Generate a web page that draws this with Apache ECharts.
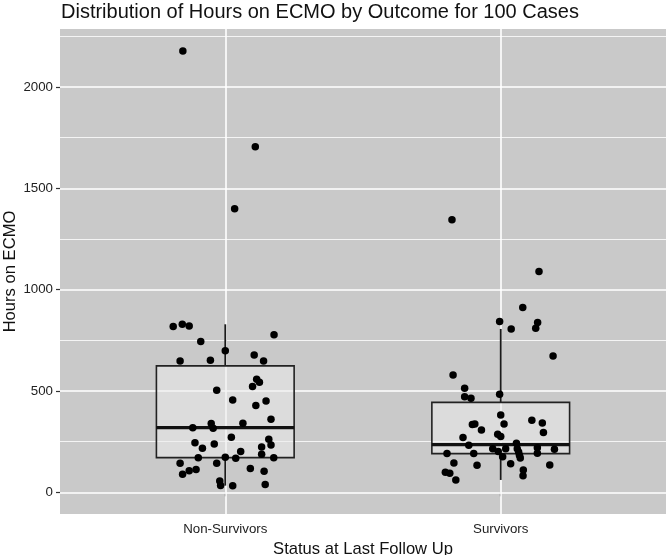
<!DOCTYPE html>
<html>
<head>
<meta charset="utf-8">
<script src="https://cdn.jsdelivr.net/npm/echarts@6/dist/echarts.min.js"></script>
<style>html,body{margin:0;padding:0;background:#fff}#c{width:666px;height:555px}</style>
</head>
<body>
<div id="c"></div>
<script>
const titleText = 'Distribution of Hours on ECMO by Outcome for 100 Cases';
const categories = ['Non-Survivors', 'Survivors'];
const yTicks = [0, 500, 1000, 1500, 2000];
const yMinorTicks = [250, 750, 1250, 1750, 2250];

// box statistics: [min whisker, Q1, median, Q3, max whisker]
const nsBox = [33, 171, 319, 624, 829];
const sBox = [61, 191, 235, 444, 806];

// Non-Survivors: hours and horizontal jitter (category units)
const nsHours = [2178, 1705, 1399, 818, 829, 821, 777, 744, 699, 678, 648, 652, 648, 558, 543, 522, 504, 456, 451, 428, 360, 341, 339, 319, 316, 272, 262, 245, 238, 234, 217, 224, 201, 188, 171, 173, 168, 171, 143, 143, 117, 89, 107, 113, 104, 56, 34, 33, 39];
const nsJitter = [-0.154, 0.109, 0.034, -0.189, -0.156, -0.131, 0.177, -0.089, 0, 0.105, -0.164, -0.054, 0.139, 0.114, 0.124, 0.099, -0.031, 0.027, 0.148, 0.111, 0.166, 0.064, -0.051, -0.118, -0.044, 0.022, 0.158, -0.110, -0.040, 0.166, -0.083, 0.132, 0.056, 0.132, -0.098, 0, 0.038, 0.176, -0.164, -0.031, 0.091, -0.155, -0.131, -0.106, 0.141, -0.02, -0.017, 0.027, 0.145];

// Survivors: hours and horizontal jitter (category units)
const sHours = [1345, 1090, 912, 843, 806, 838, 810, 672, 579, 513, 471, 464, 484, 382, 355, 342, 334, 337, 337, 308, 295, 286, 275, 270, 232, 242, 215, 215, 215, 220, 212, 201, 199, 193, 191, 191, 183, 176, 169, 145, 141, 133, 135, 110, 82, 99, 94, 61];
const sJitter = [-0.177, 0.139, 0.08, -0.004, 0.038, 0.134, 0.127, 0.19, -0.173, -0.131, -0.131, -0.108, -0.004, 0, 0.113, 0.151, -0.103, -0.094, 0.012, -0.07, 0.155, -0.011, 0, -0.137, -0.116, 0.057, -0.029, 0.018, 0.06, 0.133, 0.195, -0.009, 0.065, 0.133, -0.195, -0.098, 0.068, 0.007, 0.071, -0.17, 0.036, -0.086, 0.178, 0.082, 0.081, -0.201, -0.185, -0.163];

const boxData = [[1].concat(nsBox), [2].concat(sBox)];
const pointData = nsHours.map((h, i) => [1 + nsJitter[i], h])
  .concat(sHours.map((h, i) => [2 + sJitter[i], h]));

const BOX_HALF = 0.25;
const FONT = 'Liberation Sans, Arial, Helvetica, sans-serif';

const gridLines = []
  .concat(yTicks.map(v => ({ yAxis: v, lineStyle: { color: '#ffffff', width: 1.6, type: 'solid' } })))
  .concat(yMinorTicks.map(v => ({ yAxis: v, lineStyle: { color: '#ffffff', width: 0.8, type: 'solid' } })))
  .concat([1, 2].map(v => ({ xAxis: v, lineStyle: { color: '#ffffff', width: 1.6, type: 'solid' } })));

const chart = echarts.init(document.getElementById('c'), null, { renderer: 'canvas' });
chart.setOption({
  animation: false,
  backgroundColor: '#ffffff',
  title: {
    text: titleText,
    left: 56,
    top: -3,
    textStyle: { fontFamily: FONT, fontSize: 20, fontWeight: 'normal', color: '#111111' }
  },
  grid: {
    left: 60, right: 0, top: 29, bottom: 41,
    containLabel: false, outerBoundsMode: 'none',
    show: true, backgroundColor: '#c9c9c9', borderWidth: 0
  },
  xAxis: {
    type: 'value', min: 0.4, max: 2.6,
    name: 'Status at Last Follow Up', nameLocation: 'middle', nameGap: 27, nameMoveOverlap: false,
    nameTextStyle: { fontFamily: FONT, fontSize: 16.6, color: '#111111' },
    axisLine: { show: false },
    axisTick: { show: true, customValues: [1, 2], length: 4, lineStyle: { color: '#333333', width: 1.2 } },
    axisLabel: { customValues: [1, 2], margin: 9, fontFamily: FONT, fontSize: 13.3, color: '#222222',
      formatter: v => categories[Math.round(v) - 1] || '' },
    splitLine: { show: false }
  },
  yAxis: {
    type: 'value', min: -107, max: 2286,
    name: 'Hours on ECMO', nameLocation: 'middle', nameGap: 41, nameRotate: 90, nameMoveOverlap: false,
    nameTextStyle: { fontFamily: FONT, fontSize: 16.6, color: '#111111' },
    axisLine: { show: false },
    axisTick: { show: true, customValues: yTicks, length: 4, lineStyle: { color: '#333333', width: 1.2 } },
    axisLabel: { customValues: yTicks, margin: 7, fontFamily: FONT, fontSize: 13.3, color: '#222222',
      formatter: v => String(v) },
    splitLine: { show: false }
  },
  series: [
    {
      type: 'line', data: [], z: 1, silent: true,
      markLine: { z: 1, silent: true, symbol: ['none', 'none'], label: { show: false }, animation: false, data: gridLines }
    },
    {
      type: 'custom', z: 2, silent: true,
      data: boxData,
      encode: { x: 0, y: [1, 2, 3, 4, 5] },
      renderItem: function (params, api) {
        const x = api.value(0);
        const lo = api.value(1), q1 = api.value(2), med = api.value(3), q3 = api.value(4), hi = api.value(5);
        const pTL = api.coord([x - BOX_HALF, q3]);
        const pBR = api.coord([x + BOX_HALF, q1]);
        const cx = api.coord([x, 0])[0];
        const yLo = api.coord([x, lo])[1], yHi = api.coord([x, hi])[1];
        const yMed = api.coord([x, med])[1];
        return {
          type: 'group',
          children: [
            { type: 'line', z2: 10, shape: { x1: cx, y1: pTL[1], x2: cx, y2: yHi }, style: { stroke: '#1a1a1a', lineWidth: 1.8 } },
            { type: 'line', z2: 10, shape: { x1: cx, y1: pBR[1], x2: cx, y2: yLo }, style: { stroke: '#1a1a1a', lineWidth: 1.8 } },
            { type: 'rect', z2: 11, shape: { x: pTL[0], y: pTL[1], width: pBR[0] - pTL[0], height: pBR[1] - pTL[1] },
              style: { fill: 'rgba(235,235,235,0.55)', stroke: '#222222', lineWidth: 1.6 } },
            { type: 'line', z2: 12, shape: { x1: pTL[0], y1: yMed, x2: pBR[0], y2: yMed }, style: { stroke: '#111111', lineWidth: 3.2 } }
          ]
        };
      }
    },
    {
      type: 'scatter', z: 3, silent: true,
      symbol: 'circle', symbolSize: 7.5,
      itemStyle: { color: '#000000', opacity: 1 },
      data: pointData
    }
  ]
});
</script>
</body>
</html>
